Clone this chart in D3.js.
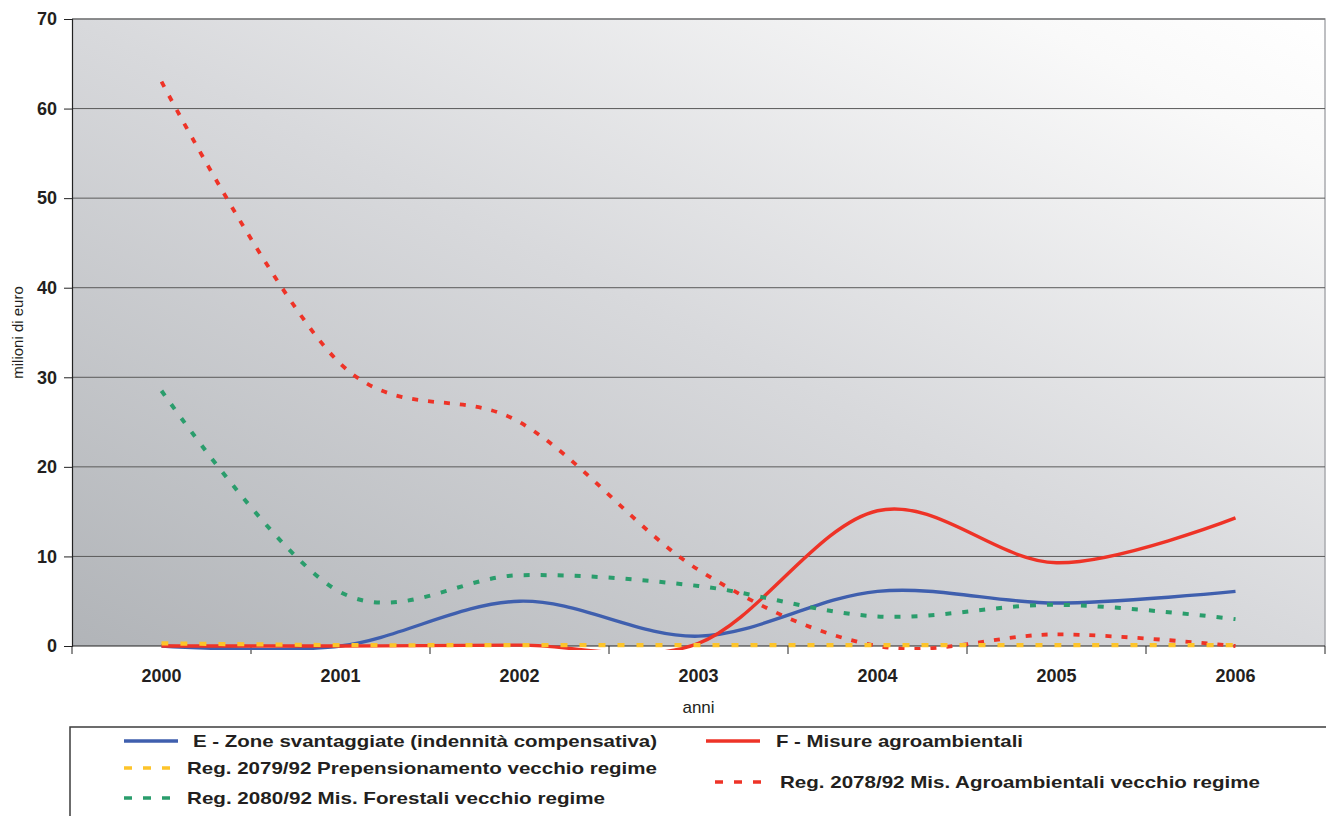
<!DOCTYPE html>
<html>
<head>
<meta charset="utf-8">
<script src="https://cdn.jsdelivr.net/npm/d3@7"></script>
<style>
  html, body { margin: 0; padding: 0; background: #fff; }
  svg { display: block; font-family: "Liberation Sans", Arial, sans-serif; }
</style>
</head>
<body>
<svg id="chart" width="1326" height="816"></svg>
<script>
// Years on the category axis
const years = ["2000", "2001", "2002", "2003", "2004", "2005", "2006"];

// Spending per measure, milioni di euro
const zoneSvantaggiate = [0, 0, 5.0, 1.1, 6.1, 4.8, 6.1];
const misureAgroambientali = [0, 0, 0.1, 0.3, 15.1, 9.3, 14.3];
const prepensionamento = [0.3, 0.1, 0.1, 0.1, 0.1, 0.1, 0.1];
const forestali = [28.5, 6.0, 7.9, 6.7, 3.3, 4.6, 3.0];
const agroambientaliVecchio = [63.0, 31.5, 25.0, 8.5, 0, 1.3, 0];

const yTicks = [0, 10, 20, 30, 40, 50, 60, 70];

const series = [
  { name: "E - Zone svantaggiate (indennità compensativa)", values: zoneSvantaggiate, color: "#3f5fae", dash: null, width: 3.4 },
  { name: "F - Misure agroambientali", values: misureAgroambientali, color: "#ee3327", dash: null, width: 3.4 },
  { name: "Reg. 2080/92 Mis. Forestali vecchio regime", values: forestali, color: "#2a9d6c", dash: "6,11", width: 4 },
  { name: "Reg. 2078/92 Mis. Agroambientali vecchio regime", values: agroambientaliVecchio, color: "#ee3327", dash: "6,10", width: 3.8 },
  { name: "Reg. 2079/92 Prepensionamento vecchio regime", values: prepensionamento, color: "#fdc42a", dash: "7,12", width: 4.2 }
];

const svg = d3.select("#chart");
const plot = { left: 72, right: 1325, top: 19, bottom: 646 };

const x = d3.scaleBand().domain(years).range([plot.left, plot.right]).padding(0);
const y = d3.scaleLinear().domain([0, 70]).range([plot.bottom, plot.top]);

const defs = svg.append("defs");

// Background gradient: dark grey bottom-left fading to white top-right
const grad = defs.append("linearGradient")
  .attr("id", "bg")
  .attr("x1", 0).attr("y1", 1).attr("x2", 1).attr("y2", 0);
grad.append("stop").attr("offset", "0").attr("stop-color", "#b1b4b8");
grad.append("stop").attr("offset", "0.5").attr("stop-color", "#d8d9dc");
grad.append("stop").attr("offset", "0.88").attr("stop-color", "#f9f9f9");
grad.append("stop").attr("offset", "1").attr("stop-color", "#ffffff");

// Series are clipped a few pixels below the zero line
defs.append("clipPath").attr("id", "plotClip")
  .append("rect")
  .attr("x", plot.left).attr("y", plot.top)
  .attr("width", plot.right - plot.left).attr("height", plot.bottom - plot.top + 4);

svg.append("rect")
  .attr("x", plot.left).attr("y", plot.top)
  .attr("width", plot.right - plot.left).attr("height", plot.bottom - plot.top)
  .attr("fill", "url(#bg)");

// Plot frame (top and right)
svg.append("path")
  .attr("d", `M${plot.left},${plot.top}H${plot.right}V${plot.bottom}`)
  .attr("fill", "none").attr("stroke", "#a9abae").attr("stroke-width", 1.5);

// Horizontal gridlines
svg.append("g").selectAll("line")
  .data(yTicks.filter(d => d > 0))
  .join("line")
  .attr("x1", plot.left).attr("x2", plot.right)
  .attr("y1", d => y(d)).attr("y2", d => y(d))
  .attr("stroke", "#5a5a5a").attr("stroke-width", 1);

// Y axis
const yAxis = svg.append("g")
  .attr("transform", `translate(${plot.left},0)`)
  .call(d3.axisLeft(y).tickValues(yTicks).tickSize(8).tickPadding(7).tickFormat(d3.format("d")));
yAxis.select(".domain").attr("stroke", "#222").attr("stroke-width", 1.2);
yAxis.selectAll(".tick line").attr("stroke", "#222");
yAxis.selectAll("text")
  .attr("font-size", 18).attr("font-weight", "bold").attr("fill", "#231f20")
  .attr("font-family", "'Liberation Sans', Arial, sans-serif");

// X axis: tick marks on category boundaries, labels centred in each band
const xAxisG = svg.append("g").attr("transform", `translate(0,${plot.bottom})`);
xAxisG.append("line")
  .attr("x1", plot.left).attr("x2", plot.right)
  .attr("stroke", "#222").attr("stroke-width", 1.2);
const boundaries = years.map(d => x(d)).concat([x(years[years.length - 1]) + x.bandwidth()]);
xAxisG.selectAll("line.tick")
  .data(boundaries)
  .join("line").attr("class", "tick")
  .attr("x1", d => d).attr("x2", d => d)
  .attr("y1", 0).attr("y2", 8)
  .attr("stroke", "#222");
xAxisG.selectAll("text")
  .data(years)
  .join("text")
  .attr("x", d => x(d) + x.bandwidth() / 2)
  .attr("y", 36)
  .attr("text-anchor", "middle")
  .attr("font-size", 18).attr("font-weight", "bold").attr("fill", "#231f20")
  .text(d => d);

// Axis titles
svg.append("text")
  .attr("x", x("2003") + x.bandwidth() / 2).attr("y", 713)
  .attr("text-anchor", "middle").attr("font-size", 17).attr("fill", "#231f20")
  .text("anni");
svg.append("text")
  .attr("transform", `translate(23,${(plot.top + plot.bottom) / 2}) rotate(-90)`)
  .attr("text-anchor", "middle").attr("font-size", 15).attr("fill", "#231f20")
  .text("milioni di euro");

// Smoothed series lines
const line = d3.line()
  .x((d, i) => x(years[i]) + x.bandwidth() / 2)
  .y(d => y(d))
  .curve(d3.curveCardinal.tension(0));

svg.append("g")
  .attr("clip-path", "url(#plotClip)")
  .selectAll("path")
  .data(series)
  .join("path")
  .attr("d", d => line(d.values))
  .attr("fill", "none")
  .attr("stroke", d => d.color)
  .attr("stroke-width", d => d.width)
  .attr("stroke-dasharray", d => d.dash)
  .attr("stroke-linejoin", "round");

// Legend box
svg.append("path")
  .attr("d", "M70,816V727H1326")
  .attr("fill", "none").attr("stroke", "#3d3d3d").attr("stroke-width", 1.5);

const legendItems = [
  { s: series[0], x1: 124, x2: 178, ty: 741, tx: 193, w: 464 },
  { s: series[4], x1: 124, x2: 178, ty: 768, tx: 187, w: 470 },
  { s: series[2], x1: 124, x2: 178, ty: 798, tx: 187, w: 418 },
  { s: series[1], x1: 706, x2: 760, ty: 741, tx: 776, w: 247 },
  { s: series[3], x1: 715, x2: 766, ty: 782, tx: 780, w: 480 }
];
const lg = svg.append("g").selectAll("g").data(legendItems).join("g");
lg.append("line")
  .attr("x1", d => d.x1).attr("x2", d => d.x2)
  .attr("y1", d => d.ty).attr("y2", d => d.ty)
  .attr("stroke", d => d.s.color).attr("stroke-width", 3.4)
  .attr("stroke-dasharray", d => d.s.dash ? "8,11" : null);
lg.append("text")
  .attr("x", d => d.tx).attr("y", d => d.ty + 6)
  .attr("font-size", 17).attr("font-weight", "bold").attr("fill", "#231f20")
  .attr("textLength", d => d.w).attr("lengthAdjust", "spacingAndGlyphs")
  .text(d => d.s.name);
</script>
</body>
</html>
